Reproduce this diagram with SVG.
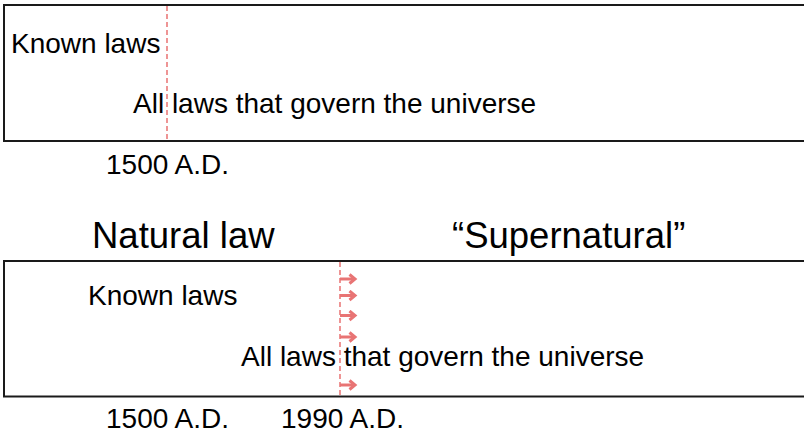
<svg xmlns="http://www.w3.org/2000/svg" width="804" height="435" viewBox="0 0 804 435">
<style>
text{font-family:"Liberation Sans",Arial,sans-serif;fill:#000}
.t{font-size:28px}
.h{font-size:36.5px}
.box{fill:#fff;stroke:#1a1a1a;stroke-width:2}
.dash{stroke:#ea7b7b;stroke-width:1.6;stroke-dasharray:5,3;fill:none}
.arr{stroke:#e87474;stroke-width:3;fill:none;stroke-linecap:butt}
</style>
<defs>
<marker id="ah" markerWidth="10" markerHeight="12" refX="7" refY="6" orient="auto" markerUnits="userSpaceOnUse">
<path d="M1.5,1.5 L7,6 L1.5,10.5" fill="none" stroke="#e87474" stroke-width="3" stroke-linejoin="miter"/>
</marker>
</defs>
<rect width="804" height="435" fill="#fff"/>
<g id="panel1">
<rect class="box" x="4" y="5" width="820" height="136"/>
<text class="t" x="11" y="52.5">Known laws</text>
<text class="t" x="133" y="112.5">All laws that govern the universe</text>
<text class="t" x="106" y="174">1500 A.D.</text>
</g>
<g id="titles">
<text class="h" x="92" y="247.5">Natural law</text>
<text class="h" x="452" y="247.5">“Supernatural”</text>
</g>
<g id="panel2">
<rect class="box" x="4" y="261" width="820" height="135.5"/>
<text class="t" x="88" y="305">Known laws</text>
<text class="t" x="241" y="366">All laws that govern the universe</text>
<text class="t" x="106" y="428">1500 A.D.</text>
<text class="t" x="281" y="428">1990 A.D.</text>
</g>
<g id="connectors">
<line class="dash" x1="167" y1="6" x2="167" y2="140"/>
<line class="dash" x1="340" y1="262" x2="340" y2="395"/>
<line class="arr" x1="340" y1="279" x2="355" y2="279" marker-end="url(#ah)"/>
<line class="arr" x1="340" y1="295.5" x2="355" y2="295.5" marker-end="url(#ah)"/>
<line class="arr" x1="340" y1="315.5" x2="355" y2="315.5" marker-end="url(#ah)"/>
<line class="arr" x1="340" y1="337" x2="355" y2="337" marker-end="url(#ah)"/>
<line class="arr" x1="340" y1="385" x2="355" y2="385" marker-end="url(#ah)"/>
</g>
</svg>
